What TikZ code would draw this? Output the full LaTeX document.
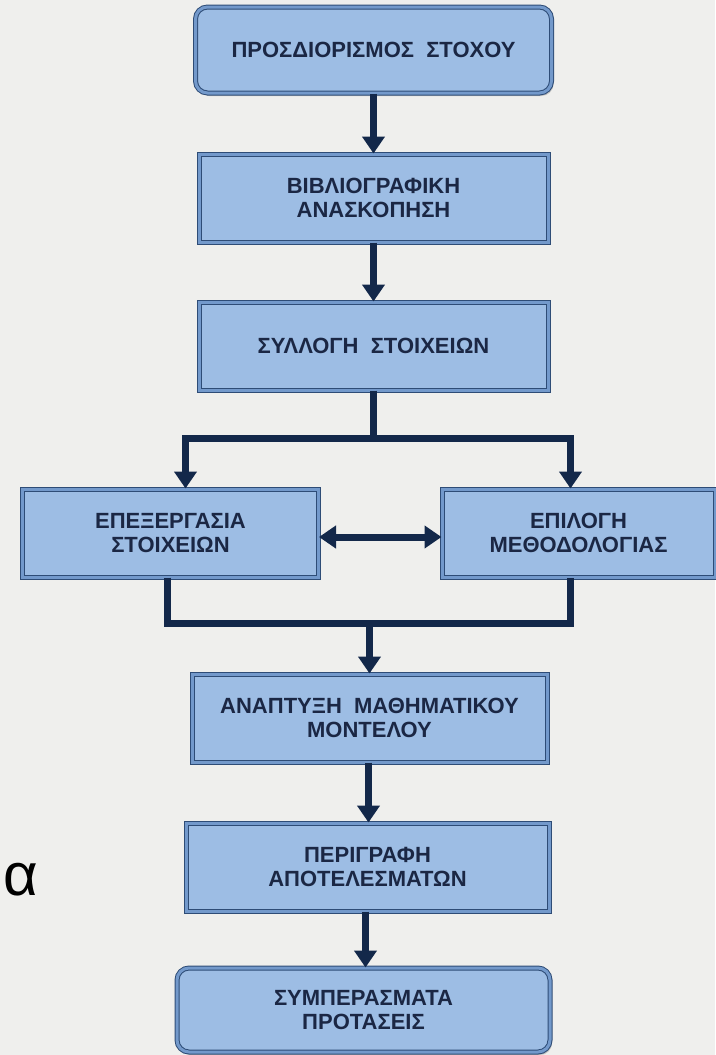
\documentclass[tikz,border=0pt]{standalone}
\usepackage{fontspec}
\setmainfont{Liberation Sans}
\usetikzlibrary{positioning, arrows.meta, shadows}

\definecolor{boxfill}{HTML}{9DBDE4}
\definecolor{boxrim}{HTML}{7399CB}
\definecolor{boxline}{HTML}{2E4C76}
\definecolor{flow}{HTML}{13284A}
\definecolor{ink}{HTML}{1B2744}
\definecolor{paper}{HTML}{EFEFED}

\tikzset{
  stage/.style={draw=boxline, line width=1pt, double=boxrim, double distance=3pt,
    fill=boxfill, minimum height=88pt, align=center, text=ink,
    font=\bfseries\fontsize{22}{24}\selectfont,
    drop shadow={shadow xshift=2pt, shadow yshift=-3pt, opacity=0.4}},
  endstage/.style={stage, rounded corners=12pt},
  flowline/.style={draw=flow, line width=7pt},
  flowarrow/.style={flowline, -{Triangle[width=22pt,length=17pt]}},
}

\begin{document}
\begin{tikzpicture}[x=1pt, y=1pt]
        \fill[paper] (0,0) rectangle (715,-1055);
        \useasboundingbox (0,0) rectangle (715,-1055);
        %---------------------------
        \node[endstage, minimum width=356pt, minimum height=86pt] (goal) at (373.5,-50) {ΠΡΟΣΔΙΟΡΙΣΜΟΣ\ \ ΣΤΟΧΟΥ};
        \node[stage, minimum width=349pt, below=60pt of goal] (review) {ΒΙΒΛΙΟΓΡΑΦΙΚΗ\\ΑΝΑΣΚΟΠΗΣΗ};
        \node[stage, minimum width=349pt, below=59pt of review] (collect) {ΣΥΛΛΟΓΗ\ \ ΣΤΟΙΧΕΙΩΝ};
        \node[stage, minimum width=296pt, below=98pt of collect, xshift=-203pt] (process) {ΕΠΕΞΕΡΓΑΣΙΑ\\ΣΤΟΙΧΕΙΩΝ};
        \node[stage, minimum width=273pt, below=98pt of collect, xshift=205pt] (method) {ΕΠΙΛΟΓΗ\\ΜΕΘΟΔΟΛΟΓΙΑΣ};
        \node[stage, minimum width=355pt, below=283pt of collect, xshift=-4pt] (model) {ΑΝΑΠΤΥΞΗ\ \ ΜΑΘΗΜΑΤΙΚΟΥ\\ΜΟΝΤΕΛΟΥ};
        \node[stage, minimum width=363pt, below=60pt of model, xshift=-2pt] (results) {ΠΕΡΙΓΡΑΦΗ\\ΑΠΟΤΕΛΕΣΜΑΤΩΝ};
        \node[endstage, minimum width=373pt, minimum height=84pt, below=56pt of results, xshift=-4pt] (concl) {ΣΥΜΠΕΡΑΣΜΑΤΑ\\ΠΡΟΤΑΣΕΙΣ};
        \node[anchor=west, inner sep=0pt, font=\fontsize{60}{60}\selectfont] (alpha) at (3,-880) {α};
        %---------------------------
        \coordinate[below=48pt of collect] (split);
        \coordinate[above=50pt of model] (merge);
        \draw[flowarrow] (goal) -- (review);
        \draw[flowarrow] (review) -- (collect);
        \draw[flowline] (collect) -- (split);
        \draw[flowarrow] (split) -| ([xshift=15pt]process.north);
        \draw[flowarrow] (split) -| ([xshift=-8pt]method.north);
        \draw[flowline, {Triangle[width=22pt,length=17pt]}-{Triangle[width=22pt,length=17pt]}]
          ([yshift=-4pt]process.east) -- ([yshift=-4pt]process.east -| method.west);
        \draw[flowline] ([xshift=-3pt]process.south) |- (merge) -| ([xshift=-8pt]method.south);
        \draw[flowarrow] (merge) -- (model);
        \draw[flowarrow] ([xshift=-1pt]model.south) -- ([xshift=-1pt]model.south |- results.north);
        \draw[flowarrow] ([xshift=-2pt]results.south) -- ([xshift=-2pt]results.south |- concl.north);
\end{tikzpicture}
\end{document}
